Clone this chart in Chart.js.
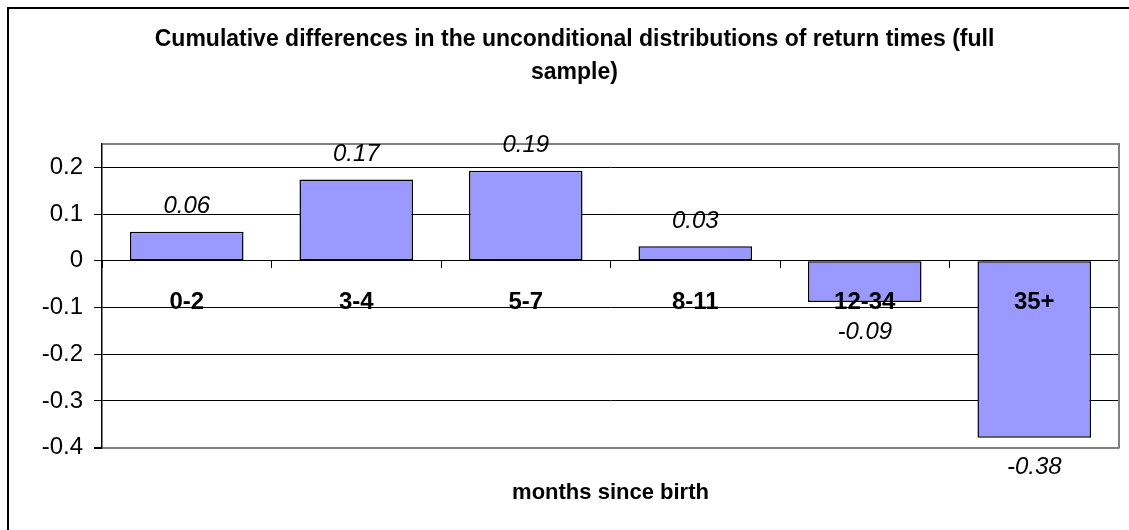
<!DOCTYPE html>
<html>
<head>
<meta charset="utf-8">
<script src="https://cdn.jsdelivr.net/npm/chart.js@4"></script>
<style>
    body { margin: 0; background: #ffffff; overflow: hidden; }
    #marco {
        position: absolute; left: 7px; top: 7px; width: 2000px; height: 2000px;
        border-left: 2px solid #000; border-top: 2px solid #000;
    }
    #contenedor { position: absolute; left: 0; top: 0; width: 1129px; height: 530px; }
</style>
</head>
<body>
<div id="marco"></div>
<div id="contenedor"><canvas id="migrafico" width="1129" height="530"></canvas></div>
<script>
// datos
const meses = ['0-2', '3-4', '5-7', '8-11', '12-34', '35+'];
const diferencias = [0.062, 0.174, 0.193, 0.031, -0.088, -0.379];
const ticksY = [-0.4, -0.3, -0.2, -0.1, 0, 0.1, 0.2];
const minY = -0.4;
const maxY = 0.25;

const fuente = "'Liberation Sans', Arial, sans-serif";

// etiquetas de valor encima / debajo de cada barra
const etiquetasValor = {
    id: 'etiquetasValor',
    afterDatasetsDraw(chart) {
        const ctx = chart.ctx;
        const meta = chart.getDatasetMeta(0);
        ctx.save();
        ctx.font = 'italic 24px ' + fuente;
        ctx.fillStyle = '#000';
        ctx.textAlign = 'center';
        ctx.textBaseline = 'middle';
        meta.data.forEach((bar, i) => {
            const v = diferencias[i];
            const y = v >= 0 ? bar.y - 25 : bar.y + 30;
            ctx.fillText(v.toFixed(2), bar.x, y);
        });
        ctx.restore();
    }
};

// borde derecho gris del area del grafico
const bordeArea = {
    id: 'bordeArea',
    beforeDatasetsDraw(chart) {
        const { ctx, chartArea } = chart;
        ctx.save();
        ctx.strokeStyle = '#808080';
        ctx.lineWidth = 2;
        ctx.beginPath();
        ctx.moveTo(chartArea.right, chartArea.top - 1);
        ctx.lineTo(chartArea.right, chartArea.bottom + 1);
        ctx.stroke();
        ctx.restore();
    }
};

const ctx = document.getElementById('migrafico').getContext('2d');
const myChart = new Chart(ctx, {
    type: 'bar',
    data: {
        labels: meses,
        datasets: [{
            data: diferencias,
            backgroundColor: '#9999ff',
            borderColor: '#000000',
            borderWidth: 1.5,
            borderSkipped: false,
            categoryPercentage: 1,
            barPercentage: 0.67
        }]
    },
    options: {
        responsive: false,
        animation: false,
        layout: { padding: { left: 30, right: 10, top: 0, bottom: 0 } },
        plugins: {
            legend: { display: false },
            tooltip: { enabled: false },
            title: {
                display: true,
                text: ['Cumulative differences in the unconditional distributions of return times (full', 'sample)'],
                color: '#000',
                font: { family: fuente, size: 23, weight: 'bold', lineHeight: 1.435 },
                padding: { top: 23, bottom: 55 }
            }
        },
        scales: {
            x: {
                position: { y: 0 },
                offset: true,
                grid: {
                    offset: true,
                    drawOnChartArea: false,
                    drawTicks: true,
                    tickLength: 7,
                    color: '#000'
                },
                border: { color: '#000', width: 1 },
                ticks: {
                    z: 1,
                    color: '#000',
                    padding: 20,
                    font: { family: fuente, size: 24, weight: 'bold' }
                },
                afterFit(scale) { scale.height = 0; }
            },
            x2: {
                type: 'category',
                labels: meses,
                position: 'bottom',
                grid: { display: false, drawTicks: false },
                border: { display: false },
                ticks: { display: false },
                title: {
                    display: true,
                    text: 'months since birth',
                    color: '#000',
                    font: { family: fuente, size: 22, weight: 'bold', lineHeight: 1.2 },
                    padding: { top: 32, bottom: 24 }
                }
            },
            y: {
                min: minY,
                max: maxY,
                afterBuildTicks(scale) {
                    scale.ticks = ticksY.map(v => ({ value: v })).concat([{ value: maxY }]);
                },
                afterFit(scale) { scale.width = 72; },
                grid: {
                    color: c => (c.tick && (c.tick.value === maxY || c.tick.value === minY)) ? '#808080' : '#000',
                    lineWidth: c => (c.tick && (c.tick.value === maxY || c.tick.value === minY)) ? 2 : 1,
                    tickColor: c => (c.tick && c.tick.value === maxY) ? 'rgba(0,0,0,0)' : '#000',
                    tickLength: 8
                },
                border: { color: '#000', width: 1.5 },
                ticks: {
                    color: '#000',
                    padding: 11,
                    font: { family: fuente, size: 24 },
                    callback: v => ticksY.includes(v) ? String(v) : ''
                }
            }
        }
    },
    plugins: [etiquetasValor, bordeArea]
});
</script>
</body>
</html>
